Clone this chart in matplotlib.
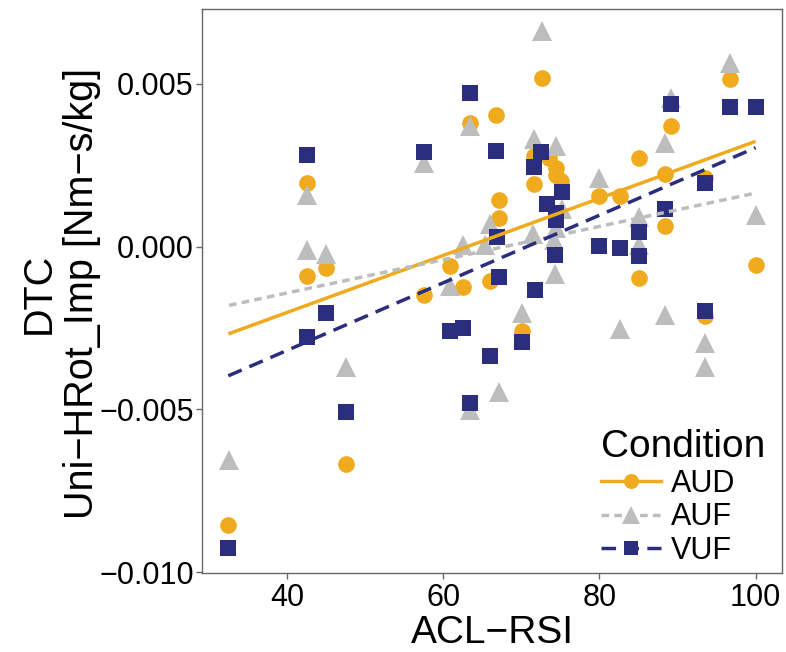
import numpy as np
import matplotlib
matplotlib.use("Agg")
import matplotlib.pyplot as plt
from matplotlib.lines import Line2D

plt.rcParams['font.family'] = ['Liberation Sans', 'DejaVu Sans']

# ACL-RSI (x) and DTC Uni-HRot_Imp (y) per condition
aud_x = [32.5, 42.6, 42.6, 45.0, 47.6, 57.5, 60.9, 62.6, 63.4, 66.0, 66.8,
         67.1, 67.1, 70.1, 71.6, 71.6, 72.6, 73.5, 74.4, 74.4, 75.1, 80.0,
         82.6, 85.1, 85.1, 88.4, 88.4, 89.2, 93.5, 93.5, 96.7, 100.0]
aud_y = [-0.00855, 0.00195, -0.00090, -0.00066, -0.00668, -0.00150, -0.00061,
         -0.00125, 0.00381, -0.00105, 0.00403, 0.00144, 0.00087, -0.00259,
         0.00277, 0.00193, 0.00518, 0.00273, 0.00240, 0.00220, 0.00203,
         0.00154, 0.00156, 0.00272, -0.00098, 0.00222, 0.00064, 0.00371,
         0.00210, -0.00213, 0.00514, -0.00058]

auf_x = [32.6, 42.6, 42.6, 45.0, 47.6, 57.6, 60.9, 62.6, 63.4, 63.4, 65.4,
         66.0, 67.1, 70.1, 71.6, 71.5, 72.6, 74.4, 74.4, 74.2, 74.3, 75.2,
         80.0, 82.6, 85.1, 85.1, 88.4, 88.4, 89.2, 93.5, 93.5, 96.7, 100.0]
auf_y = [-0.00656, 0.00159, -0.00012, -0.00022, -0.00369, 0.00256, -0.00120,
         0.00005, 0.00371, -0.00502, 0.00005, 0.00070, -0.00446, -0.00205,
         0.00330, 0.00038, 0.00661, 0.00310, 0.00058, 0.00021, -0.00085,
         0.00115, 0.00212, -0.00254, 0.00092, 0.00005, 0.00318, -0.00210,
         0.00456, -0.00295, -0.00369, 0.00564, 0.00097]

vuf_x = [32.5, 42.6, 42.6, 45.0, 47.6, 57.5, 60.9, 62.6, 63.4, 63.4, 66.0,
         66.8, 66.9, 67.1, 70.1, 71.6, 71.7, 72.5, 73.3, 74.4, 74.4, 74.3,
         75.2, 80.0, 82.6, 85.1, 85.1, 88.4, 89.2, 93.5, 93.5, 96.7, 100.0]
vuf_y = [-0.00927, 0.00282, -0.00278, -0.00205, -0.00509, 0.00292, -0.00258,
         -0.00251, 0.00473, -0.00481, -0.00336, 0.00295, 0.00028, -0.00094,
         -0.00292, 0.00246, -0.00133, 0.00292, 0.00131, 0.00103, 0.00082,
         -0.00026, 0.00167, 0.00001, -0.00003, 0.00044, -0.00028, 0.00114,
         0.00439, 0.00195, -0.00197, 0.00428, 0.00428]

conditions = ["AUD", "AUF", "VUF"]
xs = [aud_x, auf_x, vuf_x]
ys = [aud_y, auf_y, vuf_y]
colors = ["#F0AA1E", "#BDBDBD", "#2B2E7D"]
markers = ["o", "^", "s"]
msizes = [12, 14.5, 11]
dashes = [None, (2.2, 1.5), (4.2, 2.4)]

fig = plt.figure(figsize=(7.86, 6.52), dpi=100)
ax = fig.add_axes([202/786, 1 - 573/652, 580/786, 564/652])

for x, y, c, m, ms in zip(xs, ys, colors, markers, msizes):
    ax.plot(x, y, linestyle="none", marker=m, markersize=ms, color=c,
            markeredgewidth=0, zorder=2)

# linear fits, like geom_smooth(method = "lm", se = FALSE)
for x, y, c, d in zip(xs, ys, colors, dashes):
    x = np.array(x)
    k, b = np.polyfit(x, y, 1)
    xx = np.array([x.min(), x.max()])
    ln, = ax.plot(xx, k * xx + b, color=c, lw=2.5, zorder=3,
                  solid_capstyle="butt", dash_capstyle="butt")
    if d is not None:
        ln.set_dashes(d)

ax.set_xlim(29.13, 103.38)
ax.set_ylim(-0.01003, 0.0073)
ax.set_xticks([40, 60, 80, 100])
ax.set_yticks([-0.010, -0.005, 0.000, 0.005])
ax.set_yticklabels(["\u22120.010", "\u22120.005", "0.000", "0.005"])

for s in ax.spines.values():
    s.set_color("#666666")
    s.set_linewidth(1.0)
ax.tick_params(colors="#666666", length=4, width=1.0, labelsize=22,
               labelcolor="black")
ax.tick_params(axis="y", pad=2)
ax.tick_params(axis="x", pad=3)

ax.set_xlabel("ACL\u2212RSI", fontsize=28)
ax.xaxis.set_label_coords(0.5, -0.074)
fig.text(60/786, 1 - 293/652, "DTC\nUni\u2212HRot_Imp [Nm\u2212s/kg]",
         rotation=90, ha="center", va="center", fontsize=28.5,
         multialignment="center", linespacing=1.18)

handles = []
for c, m, ms, d in zip(colors, markers, msizes, dashes):
    h = Line2D([], [], color=c, marker=m, markersize=ms * 0.9, lw=2.5,
               markeredgewidth=0)
    if d is not None:
        h.set_dashes(d)
    handles.append(h)
leg = ax.legend(handles, conditions, title="Condition", loc="lower left",
                bbox_to_anchor=((601 - 202) / 580, (573 - 566) / 564),
                frameon=False, fontsize=22, title_fontsize=28,
                handlelength=1.95, handletextpad=0.33, labelspacing=0.12,
                borderpad=0, borderaxespad=0, alignment="left")

fig.savefig("out.png", dpi=100)
